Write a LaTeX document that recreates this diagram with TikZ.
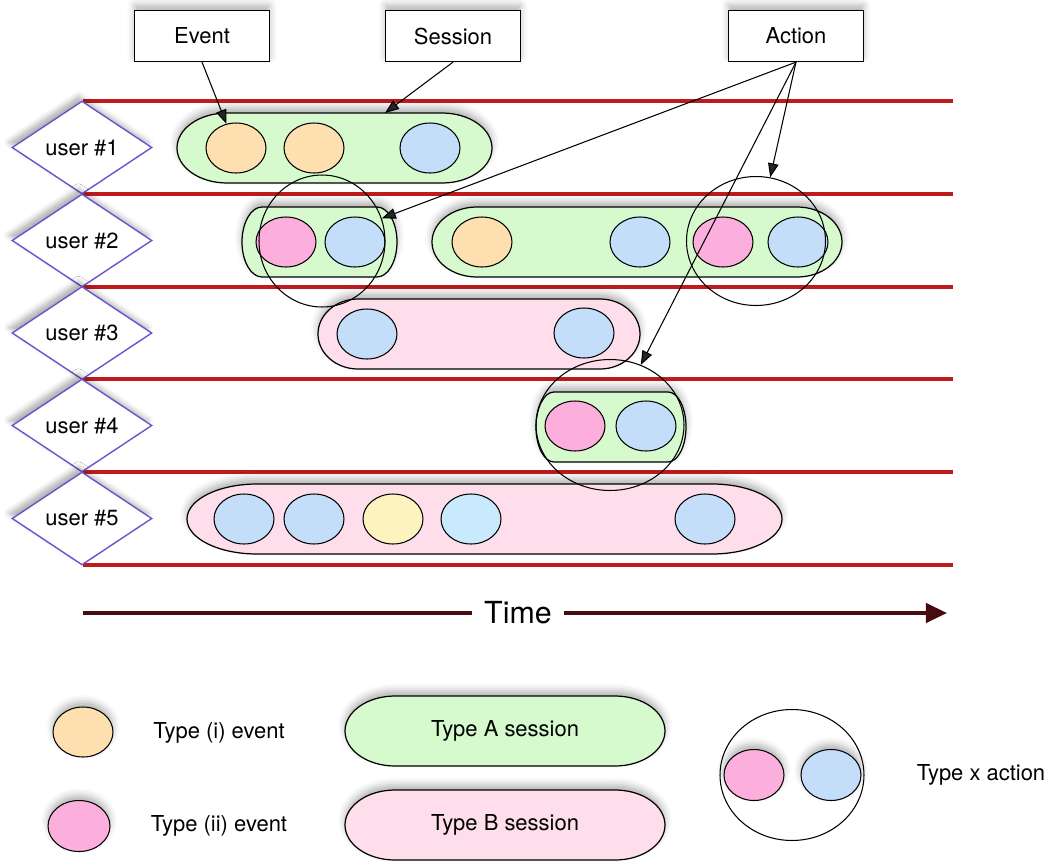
\documentclass[tikz,border=0pt]{standalone}
\usepackage{fontspec}
\setmainfont{TeX Gyre Heros}
\usepackage{xcolor}
\usetikzlibrary{shapes.geometric,arrows.meta,shadows.blur}

\definecolor{lanered}{RGB}{190,28,28}
\definecolor{userblue}{RGB}{105,85,205}
\definecolor{evpeach}{RGB}{253,223,176}
\definecolor{evblue}{RGB}{196,222,250}
\definecolor{evcyan}{RGB}{200,234,252}
\definecolor{evpink}{RGB}{252,175,220}
\definecolor{evyellow}{RGB}{253,243,190}
\definecolor{sessgreen}{RGB}{214,250,206}
\definecolor{sesspink}{RGB}{253,222,234}
\definecolor{timebrown}{RGB}{72,12,16}

\newcommand{\lbl}{\fontsize{12.5}{15}\selectfont}
% session outline: style, left x, right x, centre y, end radius
\newcommand{\sessionpath}[5]{%
  \path[#1] (#2+#5,#4-35) -- (#3-#5,#4-35)
    .. controls (#3-0.4477*#5,#4-35) and (#3,#4-19.3) .. (#3,#4)
    .. controls (#3,#4+19.3) and (#3-0.4477*#5,#4+35) .. (#3-#5,#4+35)
    -- (#2+#5,#4+35)
    .. controls (#2+0.4477*#5,#4+35) and (#2,#4+19.3) .. (#2,#4)
    .. controls (#2,#4-19.3) and (#2+0.4477*#5,#4-35) .. (#2+#5,#4-35) -- cycle;}

\begin{document}
\begin{tikzpicture}[
  x=0.02cm, y=-0.02cm,
  dropsh/.style={blur shadow={shadow xshift=0pt, shadow yshift=3pt,
                 shadow blur radius=4pt, shadow opacity=30}},
  lane/.style={draw=lanered, line width=2.2pt},
  user/.style={diamond, aspect=1.5, draw=userblue, line width=0.8pt, fill=white,
               inner sep=0pt, minimum width=2.8cm, minimum height=1.86cm, font=\lbl,
               blur shadow={shadow xshift=-2pt, shadow yshift=3pt,
               shadow blur radius=3pt, shadow opacity=30}},
  tagbox/.style={rectangle, draw, line width=0.7pt, fill=white, minimum width=2.7cm,
                 minimum height=1.02cm, font=\lbl, dropsh},
  event/.style={ellipse, draw, line width=0.6pt, minimum width=1.2cm,
                minimum height=1cm, inner sep=0pt},
  sessA/.style={draw, line width=0.7pt, fill=sessgreen, dropsh},
  sessB/.style={draw, line width=0.7pt, fill=sesspink, dropsh},
  action/.style={ellipse, draw, line width=0.6pt, inner sep=0pt},
  edge/.style={draw, -{Triangle[length=8pt,width=6pt]}, line width=0.6pt},
  legend/.style={font=\lbl},
  timeline/.style={draw=timebrown, line width=2pt},
]
  \useasboundingbox (0,0) rectangle (1056,866);

  % ========= LANES AND USERS =========
  \foreach \y in {101,194,287,379,472,565} {
    \draw[lane] (83,\y) -- (953,\y);
  }
  \foreach \i/\y in {1/147.5,2/240.5,3/333,4/425.5,5/518.5} {
    \node[user] (u\i) at (82,\y) {user \#\i};
  }

  % ========= SESSIONS =========
  \sessionpath{sessA}{177}{492}{148}{50}
  \sessionpath{sessA}{242}{397}{242}{20}
  \sessionpath{sessA}{432}{842}{242}{45}
  \sessionpath{sessB}{318}{640}{334}{40}
  \sessionpath{sessA}{536}{686}{427}{18}
  \sessionpath{sessB}{187}{782}{519}{70}
  \coordinate (sess1top) at (385,113);

  % ========= EVENTS =========
  % user #1
  \node[event, fill=evpeach] (ev11) at (236,148) {};
  \node[event, fill=evpeach] (ev12) at (314,148) {};
  \node[event, fill=evblue]  (ev13) at (430,148) {};
  % user #2
  \node[event, fill=evpink]  (ev21) at (286,242) {};
  \node[event, fill=evblue]  (ev22) at (355,242) {};
  \node[event, fill=evpeach] (ev23) at (482,242) {};
  \node[event, fill=evblue]  (ev24) at (640,242) {};
  \node[event, fill=evpink]  (ev25) at (723,242) {};
  \node[event, fill=evblue]  (ev26) at (798,242) {};
  % user #3
  \node[event, fill=evblue]  (ev31) at (367,334) {};
  \node[event, fill=evblue]  (ev32) at (584,333) {};
  % user #4
  \node[event, fill=evpink]  (ev41) at (575,426) {};
  \node[event, fill=evblue]  (ev42) at (646,426) {};
  % user #5
  \node[event, fill=evblue]   (ev51) at (244,519) {};
  \node[event, fill=evblue]   (ev52) at (314,519) {};
  \node[event, fill=evyellow] (ev53) at (393,519) {};
  \node[event, fill=evcyan]   (ev54) at (471,519) {};
  \node[event, fill=evblue]   (ev55) at (705,519) {};

  % ========= ACTIONS =========
  \node[action, minimum width=2.52cm, minimum height=2.64cm] (act1) at (322,241) {};
  \node[action, minimum width=2.78cm, minimum height=2.58cm] (act2) at (756,241) {};
  \node[action, minimum width=2.96cm, minimum height=2.62cm] (act3) at (610,425) {};

  % ========= CALLOUTS =========
  \node[tagbox] (eventbox)   at (202,36) {Event};
  \node[tagbox] (sessionbox) at (453,36) {Session};
  \node[tagbox] (actionbox)  at (796,36) {Action};

  \draw[edge] (eventbox.south) -- (ev11);
  \draw[edge] (sessionbox.south) -- (sess1top);
  \draw[edge] (actionbox.south) -- (act1);
  \draw[edge] (actionbox.south) -- (act2);
  \draw[edge] (actionbox.south) -- (act3);

  % ========= TIME AXIS =========
  \coordinate (tstart) at (83,613);
  \coordinate (tend) at (947,613);
  \node[font=\fontsize{17.3}{20}\selectfont, inner sep=7pt] (time) at (518,613) {Time};
  \draw[timeline] (tstart) -- (time.west);
  \draw[timeline, -{Triangle[length=12pt,width=11pt]}] (time.east) -- (tend);

  % ========= LEGEND =========
  \node[event, fill=evpeach, dropsh] (legi) at (83,732) {};
  \node[legend] (legitext) at (219,733) {Type (i) event};
  \node[event, fill=evpink, minimum width=1.24cm, minimum height=1.02cm, dropsh]
       (legii) at (79,826) {};
  \node[legend] (legiitext) at (219,826) {Type (ii) event};

  \sessionpath{sessA}{345}{665}{731}{50}
  \node[legend] (legA) at (505,731) {Type A session};
  \sessionpath{sessB}{345}{665}{825}{50}
  \node[legend] (legB) at (505,825) {Type B session};

  \node[action, minimum width=2.88cm, minimum height=2.62cm] (legact) at (792,775) {};
  \node[event, fill=evpink, minimum height=1.02cm, dropsh] (legactp) at (754,775) {};
  \node[event, fill=evblue, minimum height=1.02cm, dropsh] (legactb) at (831,775) {};
  \node[legend] (legacttext) at (981,775) {Type x action};

\end{tikzpicture}
\end{document}
